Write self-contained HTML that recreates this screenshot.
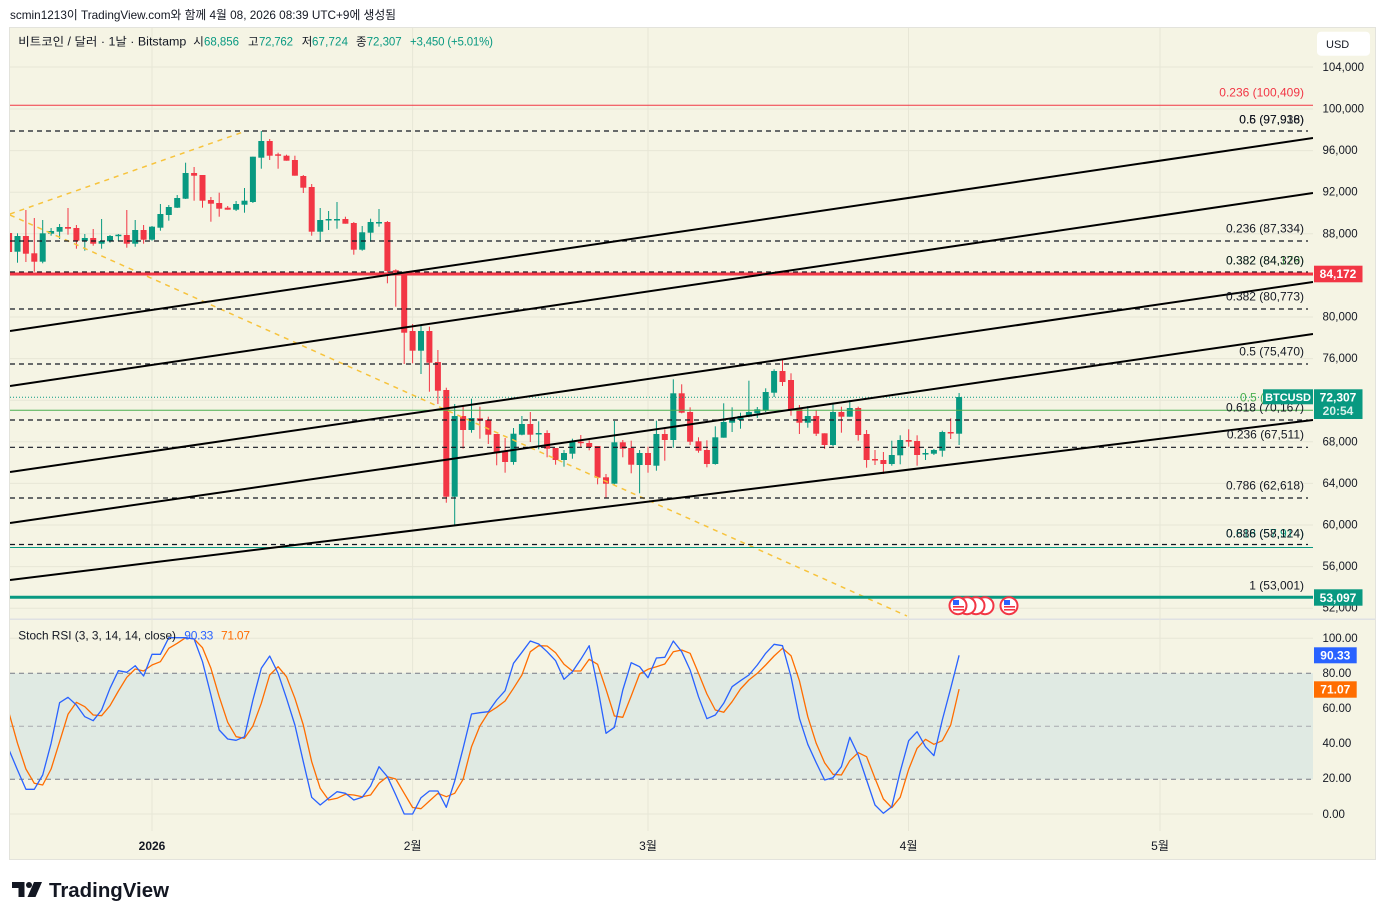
<!DOCTYPE html>
<html><head><meta charset="utf-8"><style>
html,body{margin:0;padding:0;background:#fff;}
svg{display:block;font-family:"Liberation Sans","Noto Sans CJK KR",sans-serif;}
</style></head><body>
<svg width="1385" height="920" viewBox="0 0 1385 920" xmlns="http://www.w3.org/2000/svg">
<defs>
<clipPath id="cm"><rect x="10" y="28" width="1303" height="590"/></clipPath>
<clipPath id="cr"><rect x="10" y="620" width="1303" height="211"/></clipPath>
</defs>
<rect width="1385" height="920" fill="#fff"/>
<text x="10" y="19" font-size="12" fill="#131722" textLength="386" lengthAdjust="spacingAndGlyphs">scmin1213이 TradingView.com와 함께 4월 08, 2026 08:39 UTC+9에 생성됨</text>
<rect x="9.5" y="27.5" width="1366" height="832" fill="#f5f4e4" stroke="#e3e3dc"/>
<line x1="10" y1="619.3" x2="1375" y2="619.3" stroke="#dfe1e3" stroke-width="1.5"/>

<!-- grid -->
<g stroke="#e7e6d6" stroke-width="1">
<line x1="10" y1="67" x2="1313" y2="67"/><line x1="10" y1="109" x2="1313" y2="109"/>
<line x1="10" y1="150.6" x2="1313" y2="150.6"/><line x1="10" y1="192.2" x2="1313" y2="192.2"/>
<line x1="10" y1="233.8" x2="1313" y2="233.8"/><line x1="10" y1="275.4" x2="1313" y2="275.4"/>
<line x1="10" y1="317" x2="1313" y2="317"/><line x1="10" y1="358.6" x2="1313" y2="358.6"/>
<line x1="10" y1="400.2" x2="1313" y2="400.2"/><line x1="10" y1="441.8" x2="1313" y2="441.8"/>
<line x1="10" y1="483.4" x2="1313" y2="483.4"/><line x1="10" y1="525" x2="1313" y2="525"/>
<line x1="10" y1="566.6" x2="1313" y2="566.6"/><line x1="10" y1="608.2" x2="1313" y2="608.2"/>
<line x1="10" y1="638.3" x2="1313" y2="638.3"/><line x1="10" y1="708.3" x2="1313" y2="708.3"/>
<line x1="10" y1="743.3" x2="1313" y2="743.3"/><line x1="10" y1="814" x2="1313" y2="814"/>
<line x1="152" y1="28" x2="152" y2="831"/><line x1="412.6" y1="28" x2="412.6" y2="831"/>
<line x1="648" y1="28" x2="648" y2="831"/><line x1="908.5" y1="28" x2="908.5" y2="831"/>
<line x1="1160" y1="28" x2="1160" y2="831"/>
</g>

<!-- main pane -->
<g clip-path="url(#cm)">
<!-- green candles -->
<g fill="#089981">
<rect x="17" y="233.3" width="1" height="29.4"/><rect x="14.5" y="236" width="6" height="15.7"/>
<rect x="42.2" y="220" width="1" height="43.3"/><rect x="39.7" y="233.3" width="6" height="28.4"/>
<rect x="50.6" y="228" width="1" height="7.7"/><rect x="48.1" y="231" width="6" height="2.7"/>
<rect x="59.1" y="224" width="1" height="15"/><rect x="56.6" y="227" width="6" height="4.7"/>
<rect x="84.3" y="234" width="1" height="16.7"/><rect x="81.8" y="238" width="6" height="3"/>
<rect x="101.1" y="219" width="1" height="29.7"/><rect x="98.6" y="241" width="6" height="2.7"/>
<rect x="109.5" y="235" width="1" height="7.7"/><rect x="107" y="236" width="6" height="5.3"/>
<rect x="117.9" y="234" width="1" height="7"/><rect x="115.4" y="234.7" width="6" height="1.5"/>
<rect x="134.7" y="220" width="1" height="26.7"/><rect x="132.2" y="230" width="6" height="13.7"/>
<rect x="151.5" y="226" width="1" height="14.7"/><rect x="149" y="226.7" width="6" height="13"/>
<rect x="159.9" y="204" width="1" height="26.7"/><rect x="157.4" y="214" width="6" height="13.7"/>
<rect x="168.3" y="205" width="1" height="15.7"/><rect x="165.8" y="207" width="6" height="8"/>
<rect x="176.7" y="195" width="1" height="13"/><rect x="174.2" y="198" width="6" height="9.7"/>
<rect x="185.1" y="162.7" width="1" height="36.3"/><rect x="182.6" y="173" width="6" height="25.7"/>
<rect x="235.6" y="201" width="1" height="10"/><rect x="233.1" y="204" width="6" height="5.7"/>
<rect x="244" y="188" width="1" height="24.7"/><rect x="241.5" y="200.7" width="6" height="4"/>
<rect x="252.4" y="156.7" width="1" height="46.3"/><rect x="249.9" y="156.7" width="6" height="45.3"/>
<rect x="260.8" y="131" width="1" height="37.7"/><rect x="258.3" y="141" width="6" height="16.7"/>
<rect x="319.7" y="208" width="1" height="33.7"/><rect x="317.2" y="220" width="6" height="11.7"/>
<rect x="328.1" y="211" width="1" height="19"/><rect x="325.6" y="219" width="6" height="1.5"/>
<rect x="336.5" y="202" width="1" height="26.7"/><rect x="334" y="219" width="6" height="1.5"/>
<rect x="361.7" y="226" width="1" height="24.7"/><rect x="359.2" y="232.3" width="6" height="17.4"/>
<rect x="370.1" y="218.7" width="1" height="23"/><rect x="367.6" y="222" width="6" height="10.7"/>
<rect x="378.5" y="209" width="1" height="17.7"/><rect x="376" y="222" width="6" height="1.5"/>
<rect x="420.5" y="325" width="1" height="49"/><rect x="418" y="331" width="6" height="19.7"/>
<rect x="454.2" y="404" width="1" height="121.3"/><rect x="451.7" y="416" width="6" height="80.7"/>
<rect x="471" y="398.7" width="1" height="34"/><rect x="468.5" y="418" width="6" height="12"/>
<rect x="513" y="428" width="1" height="36.7"/><rect x="510.5" y="433.7" width="6" height="28.3"/>
<rect x="521.4" y="416" width="1" height="19.3"/><rect x="518.9" y="424" width="6" height="10.7"/>
<rect x="538.2" y="421.3" width="1" height="28"/><rect x="535.7" y="433" width="6" height="1.5"/>
<rect x="563.5" y="450" width="1" height="16.7"/><rect x="561" y="453" width="6" height="7"/>
<rect x="571.9" y="438.7" width="1" height="20"/><rect x="569.4" y="441.7" width="6" height="12"/>
<rect x="613.9" y="421" width="1" height="63.3"/><rect x="611.4" y="442.3" width="6" height="41.4"/>
<rect x="639.1" y="450" width="1" height="43.3"/><rect x="636.6" y="453" width="6" height="12"/>
<rect x="655.9" y="420.7" width="1" height="50"/><rect x="653.4" y="434" width="6" height="31.7"/>
<rect x="672.8" y="379.3" width="1" height="68.4"/><rect x="670.3" y="393.3" width="6" height="46.7"/>
<rect x="714.8" y="426.3" width="1" height="38.4"/><rect x="712.3" y="437.3" width="6" height="26.7"/>
<rect x="723.2" y="403.3" width="1" height="34.4"/><rect x="720.7" y="422" width="6" height="15.7"/>
<rect x="731.6" y="407.3" width="1" height="24.7"/><rect x="729.1" y="418.7" width="6" height="4"/>
<rect x="740" y="412.7" width="1" height="16"/><rect x="737.5" y="416" width="6" height="4"/>
<rect x="748.4" y="380.7" width="1" height="36.6"/><rect x="745.9" y="412" width="6" height="4.7"/>
<rect x="756.8" y="407" width="1" height="11"/><rect x="754.3" y="409.3" width="6" height="4"/>
<rect x="765.2" y="388.3" width="1" height="23.7"/><rect x="762.7" y="392" width="6" height="18.7"/>
<rect x="773.6" y="369.3" width="1" height="27.7"/><rect x="771.1" y="371" width="6" height="21.7"/>
<rect x="807.3" y="406" width="1" height="21.7"/><rect x="804.8" y="416" width="6" height="6.7"/>
<rect x="832.5" y="402.7" width="1" height="43.6"/><rect x="830" y="412" width="6" height="33"/>
<rect x="849.3" y="400" width="1" height="16.7"/><rect x="846.8" y="408" width="6" height="8.7"/>
<rect x="891.3" y="440.7" width="1" height="25"/><rect x="888.8" y="455" width="6" height="9"/>
<rect x="899.7" y="435.3" width="1" height="29"/><rect x="897.2" y="440" width="6" height="15.3"/>
<rect x="925" y="449" width="1" height="11"/><rect x="922.5" y="453" width="6" height="1.5"/>
<rect x="933.4" y="449" width="1" height="6"/><rect x="930.9" y="450" width="6" height="3.7"/>
<rect x="941.8" y="430.7" width="1" height="26"/><rect x="939.3" y="432" width="6" height="18.7"/>
<rect x="958.6" y="393" width="1" height="52"/><rect x="956.1" y="397" width="6" height="36.7"/>
</g>
<!-- red candles -->
<g fill="#f23645">
<rect x="8.6" y="230" width="1" height="26"/><rect x="6.1" y="233" width="6" height="19"/>
<rect x="25.4" y="210" width="1" height="52"/><rect x="22.9" y="236" width="6" height="17.7"/>
<rect x="33.8" y="218" width="1" height="53.7"/><rect x="31.3" y="253.3" width="6" height="8.4"/>
<rect x="67.5" y="208" width="1" height="26.7"/><rect x="65" y="227" width="6" height="1.7"/>
<rect x="75.9" y="225" width="1" height="23.7"/><rect x="73.4" y="228" width="6" height="12.7"/>
<rect x="92.7" y="229" width="1" height="16.7"/><rect x="90.2" y="238" width="6" height="5.7"/>
<rect x="126.3" y="210" width="1" height="37.7"/><rect x="123.8" y="235" width="6" height="8.7"/>
<rect x="143.1" y="225" width="1" height="18.7"/><rect x="140.6" y="230" width="6" height="9.7"/>
<rect x="193.6" y="167" width="1" height="33.7"/><rect x="191.1" y="173" width="6" height="2.7"/>
<rect x="202" y="175" width="1" height="32.7"/><rect x="199.5" y="175" width="6" height="25.7"/>
<rect x="210.4" y="197" width="1" height="24.7"/><rect x="207.9" y="200" width="6" height="3.7"/>
<rect x="218.7" y="192.7" width="1" height="24"/><rect x="216.2" y="203" width="6" height="5.7"/>
<rect x="227.2" y="206" width="1" height="3.7"/><rect x="224.7" y="207.7" width="6" height="2"/>
<rect x="269.2" y="139" width="1" height="21"/><rect x="266.7" y="141" width="6" height="14.7"/>
<rect x="277.6" y="152.7" width="1" height="16"/><rect x="275.1" y="154.3" width="6" height="1.5"/>
<rect x="286" y="154.7" width="1" height="6"/><rect x="283.5" y="155.7" width="6" height="5"/>
<rect x="294.4" y="155.7" width="1" height="20"/><rect x="291.9" y="160" width="6" height="15.7"/>
<rect x="302.8" y="175" width="1" height="18"/><rect x="300.3" y="176" width="6" height="11.7"/>
<rect x="311.2" y="184" width="1" height="51.7"/><rect x="308.7" y="187" width="6" height="44.7"/>
<rect x="344.9" y="216.7" width="1" height="7"/><rect x="342.4" y="219" width="6" height="4.7"/>
<rect x="353.3" y="222" width="1" height="32.7"/><rect x="350.8" y="223" width="6" height="26.7"/>
<rect x="386.9" y="221" width="1" height="62.3"/><rect x="384.4" y="222" width="6" height="49"/>
<rect x="395.3" y="269.3" width="1" height="37.4"/><rect x="392.8" y="270.3" width="6" height="2"/>
<rect x="403.7" y="273" width="1" height="91"/><rect x="401.2" y="273" width="6" height="59.7"/>
<rect x="412.1" y="324" width="1" height="39.3"/><rect x="409.6" y="331" width="6" height="19.7"/>
<rect x="428.9" y="326.7" width="1" height="65"/><rect x="426.4" y="331" width="6" height="31.7"/>
<rect x="437.4" y="350" width="1" height="54"/><rect x="434.9" y="362" width="6" height="28.7"/>
<rect x="445.8" y="387.7" width="1" height="115"/><rect x="443.3" y="390" width="6" height="106.7"/>
<rect x="462.6" y="405.3" width="1" height="43.4"/><rect x="460.1" y="416" width="6" height="14"/>
<rect x="479.4" y="406.7" width="1" height="32"/><rect x="476.9" y="418.3" width="6" height="2.4"/>
<rect x="487.8" y="416.7" width="1" height="27.3"/><rect x="485.3" y="420" width="6" height="14.7"/>
<rect x="496.2" y="434" width="1" height="31.3"/><rect x="493.7" y="434" width="6" height="19.3"/>
<rect x="504.6" y="438" width="1" height="34.7"/><rect x="502.1" y="451.7" width="6" height="10.3"/>
<rect x="529.8" y="412" width="1" height="30"/><rect x="527.3" y="424" width="6" height="10.7"/>
<rect x="546.6" y="430.3" width="1" height="27"/><rect x="544.1" y="433" width="6" height="15.7"/>
<rect x="555.1" y="448" width="1" height="16.7"/><rect x="552.6" y="448" width="6" height="12"/>
<rect x="580.3" y="435" width="1" height="11.7"/><rect x="577.8" y="441.7" width="6" height="1.5"/>
<rect x="588.7" y="440.3" width="1" height="10"/><rect x="586.2" y="443" width="6" height="4"/>
<rect x="597.1" y="446" width="1" height="38.3"/><rect x="594.6" y="446" width="6" height="31.7"/>
<rect x="605.5" y="474" width="1" height="24.3"/><rect x="603" y="477.3" width="6" height="6.4"/>
<rect x="622.3" y="440" width="1" height="17.3"/><rect x="619.8" y="442.3" width="6" height="6.4"/>
<rect x="630.7" y="440.7" width="1" height="32.6"/><rect x="628.2" y="448" width="6" height="16.7"/>
<rect x="647.5" y="446.7" width="1" height="26"/><rect x="645" y="453" width="6" height="12"/>
<rect x="664.3" y="429.3" width="1" height="31.4"/><rect x="661.8" y="434" width="6" height="6"/>
<rect x="681.2" y="384.3" width="1" height="29"/><rect x="678.7" y="393.3" width="6" height="19.4"/>
<rect x="689.6" y="407.3" width="1" height="37.7"/><rect x="687.1" y="412" width="6" height="29.7"/>
<rect x="698" y="437.3" width="1" height="15.4"/><rect x="695.5" y="441.3" width="6" height="9.4"/>
<rect x="706.4" y="440.3" width="1" height="27"/><rect x="703.9" y="450" width="6" height="14"/>
<rect x="782" y="359.3" width="1" height="26.7"/><rect x="779.5" y="371" width="6" height="11"/>
<rect x="790.5" y="373.3" width="1" height="42.4"/><rect x="788" y="380" width="6" height="29.3"/>
<rect x="798.9" y="405" width="1" height="29"/><rect x="796.4" y="408" width="6" height="14.7"/>
<rect x="815.7" y="410" width="1" height="26"/><rect x="813.2" y="416" width="6" height="17.7"/>
<rect x="824.1" y="433.3" width="1" height="15.7"/><rect x="821.6" y="433.3" width="6" height="11.7"/>
<rect x="840.9" y="406.7" width="1" height="26"/><rect x="838.4" y="412" width="6" height="4.7"/>
<rect x="857.7" y="406.7" width="1" height="34"/><rect x="855.2" y="408" width="6" height="27"/>
<rect x="866.1" y="430" width="1" height="37.7"/><rect x="863.6" y="434" width="6" height="26"/>
<rect x="874.5" y="450" width="1" height="15"/><rect x="872" y="459" width="6" height="1.5"/>
<rect x="882.9" y="452" width="1" height="22"/><rect x="880.4" y="460" width="6" height="4"/>
<rect x="908.2" y="429.3" width="1" height="17.4"/><rect x="905.7" y="440" width="6" height="1.7"/>
<rect x="916.6" y="435.3" width="1" height="30.4"/><rect x="914.1" y="441" width="6" height="14"/>
<rect x="950.2" y="418.3" width="1" height="20.7"/><rect x="947.7" y="432" width="6" height="1.5"/>
</g>

<!-- orange dashed trend lines -->
<g stroke="#f7c33c" stroke-width="1.5" stroke-dasharray="5 5" fill="none">
<line x1="10" y1="214" x2="246" y2="131"/>
<line x1="10" y1="215" x2="907" y2="616"/>
</g>

<!-- horizontal fib lines -->
<line x1="10" y1="105.3" x2="1313" y2="105.3" stroke="#f23645" stroke-width="1"/>
<g stroke="#131722" stroke-width="1.2" stroke-dasharray="5 4">
<line x1="10" y1="131" x2="1308" y2="131"/>
<line x1="10" y1="241" x2="1308" y2="241"/>
<line x1="10" y1="272" x2="1308" y2="272"/>
<line x1="10" y1="309" x2="1308" y2="309"/>
<line x1="10" y1="364" x2="1308" y2="364"/>
<line x1="10" y1="420" x2="1308" y2="420"/>
<line x1="10" y1="447.3" x2="1308" y2="447.3"/>
<line x1="10" y1="498" x2="1308" y2="498"/>
<line x1="10" y1="544.5" x2="1308" y2="544.5"/>
</g>
<line x1="10" y1="547.5" x2="1313" y2="547.5" stroke="#089981" stroke-width="1"/>
<line x1="10" y1="410.3" x2="1313" y2="410.3" stroke="#4caf50" stroke-width="1"/>
<line x1="10" y1="397.3" x2="1313" y2="397.3" stroke="#089981" stroke-width="1" stroke-dasharray="1 2"/>
<line x1="10" y1="274" x2="1313" y2="274" stroke="#f23645" stroke-width="3"/>
<line x1="10" y1="597.3" x2="1313" y2="597.3" stroke="#089981" stroke-width="3"/>

<!-- channel lines -->
<g stroke="#000" stroke-width="2" fill="none">
<line x1="10" y1="331" x2="1313" y2="138"/>
<line x1="10" y1="386" x2="1313" y2="193"/>
<line x1="10" y1="472" x2="1313" y2="282"/>
<line x1="10" y1="523" x2="1313" y2="334"/>
<line x1="10" y1="580" x2="1313" y2="420"/>
</g>

<!-- fib labels -->
<g font-size="12" text-anchor="end" fill="#131722">
<text x="1304" y="96.5" fill="#f23645">0.236 (100,409)</text>
<text x="1304" y="123.5">0.5 (97,936)</text>
<text x="1304" y="123.5">0.6 (97,918)</text>
<text x="1304" y="232.5">0.236 (87,334)</text>
<text x="1304" y="264.5" fill="#4caf50">0.382 (84,179)</text>
<text x="1304" y="264.5">0.382 (84,326)</text>
<text x="1304" y="300.5">0.382 (80,773)</text>
<text x="1304" y="355.5">0.5 (75,470)</text>
<text x="1304" y="411.5">0.618 (70,167)</text>
<text x="1304" y="438.5">0.236 (67,511)</text>
<text x="1304" y="489.5">0.786 (62,618)</text>
<text x="1304" y="537.5" fill="#089981">0.618 (57,914)</text>
<text x="1304" y="537.5">0.886 (58,124)</text>
<text x="1304" y="589.5">1 (53,001)</text>
</g>
<text x="1240" y="401.5" font-size="12" fill="#4caf50">0.5 (</text>

<!-- event flags -->
<g stroke="#f23645" stroke-width="2" fill="#fff">
<circle cx="985" cy="605.7" r="8.5"/><circle cx="976" cy="605.7" r="8.5"/>
<circle cx="967" cy="605.7" r="8.5"/><circle cx="958" cy="605.7" r="8.5"/>
<circle cx="1009" cy="605.7" r="8.5"/>
</g>
<g>
<rect x="953" y="600" width="6" height="5" fill="#2962ff"/>
<rect x="953" y="606" width="11" height="1.6" fill="#f23645"/><rect x="953" y="609" width="11" height="1.6" fill="#f23645"/>
<rect x="1004" y="600" width="6" height="5" fill="#2962ff"/>
<rect x="1004" y="606" width="11" height="1.6" fill="#f23645"/><rect x="1004" y="609" width="11" height="1.6" fill="#f23645"/>
</g>
</g>

<!-- BTCUSD label -->
<rect x="1263" y="389.3" width="50" height="15" fill="#089981"/>
<text x="1288" y="401" font-size="11" fill="#fff" text-anchor="middle" font-weight="bold">BTCUSD</text>

<!-- legend -->
<g font-size="11.5">
<text x="18.3" y="45.5" fill="#131722" textLength="168" lengthAdjust="spacingAndGlyphs">비트코인 / 달러 · 1날 · Bitstamp</text>
<text x="193.3" y="45.5" fill="#131722">시</text><text x="204" y="45.5" fill="#089981" textLength="35">68,856</text>
<text x="248" y="45.5" fill="#131722">고</text><text x="259" y="45.5" fill="#089981" textLength="34">72,762</text>
<text x="301.7" y="45.5" fill="#131722">저</text><text x="312" y="45.5" fill="#089981" textLength="36">67,724</text>
<text x="356" y="45.5" fill="#131722">종</text><text x="366.7" y="45.5" fill="#089981" textLength="35">72,307</text>
<text x="410" y="45.5" fill="#089981" textLength="83">+3,450 (+5.01%)</text>
</g>

<!-- price axis -->
<rect x="1317" y="31.7" width="53" height="24" rx="4" fill="#fff"/>
<text x="1326" y="48" font-size="11" fill="#131722">USD</text>
<g font-size="11.5" fill="#131722">
<text x="1322.5" y="71">104,000</text>
<text x="1322.5" y="112.5">100,000</text>
<text x="1322.5" y="154">96,000</text>
<text x="1322.5" y="195.5">92,000</text>
<text x="1322.5" y="237.5">88,000</text>
<text x="1322.5" y="320.5">80,000</text>
<text x="1322.5" y="362">76,000</text>
<text x="1322.5" y="445.5">68,000</text>
<text x="1322.5" y="487">64,000</text>
<text x="1322.5" y="528.5">60,000</text>
<text x="1322.5" y="570">56,000</text>
<text x="1322.5" y="611.5">52,000</text>
</g>
<rect x="1314" y="265.7" width="48.5" height="16.6" fill="#f23645"/>
<text x="1338" y="278.2" font-size="12" font-weight="bold" fill="#fff" text-anchor="middle">84,172</text>
<rect x="1314" y="389.3" width="48.5" height="29.7" fill="#089981"/>
<text x="1338" y="401.5" font-size="12" font-weight="bold" fill="#fff" text-anchor="middle">72,307</text>
<text x="1338" y="415" font-size="12" font-weight="bold" fill="#d6f0ea" text-anchor="middle">20:54</text>
<rect x="1314" y="589.3" width="48.5" height="16.4" fill="#089981"/>
<text x="1338" y="601.8" font-size="12" font-weight="bold" fill="#fff" text-anchor="middle">53,097</text>

<!-- RSI pane -->
<rect x="10" y="673.3" width="1303" height="106" fill="#e0eae3"/>
<g stroke="#787b86" stroke-width="1" stroke-dasharray="5 4">
<line x1="10" y1="673.3" x2="1313" y2="673.3"/>
<line x1="10" y1="779.3" x2="1313" y2="779.3"/>
</g>
<line x1="10" y1="726.3" x2="1313" y2="726.3" stroke="#a7a9b0" stroke-width="1" stroke-dasharray="5 4"/>
<g clip-path="url(#cr)" fill="none" stroke-width="1.3" stroke-linejoin="round">
<polyline stroke="#ff6d00" points="9.1,713.3 17.5,743.3 25.9,769 34.3,783.3 42.7,785 51.1,769 59.6,741.7 68,714.3 76.4,702.3 84.8,706.7 93.2,715 101.6,715.7 110,705.7 118.4,691 126.8,677.3 135.2,669 143.6,671 152,665 160.4,661.7 168.8,648.3 177.2,643.3 185.6,637.7 194.1,639 202.5,647.7 210.9,668.3 219.2,696.7 227.7,722.3 236.1,736.7 244.5,738.3 252.9,726 261.3,703.3 269.7,675 278.1,666.7 286.5,676.7 294.9,698.3 303.3,725 311.7,761.7 320.2,788.3 328.6,800 337,798.3 345.4,794.3 353.8,795 362.2,796.7 370.6,795 379,783.3 387.4,776.7 395.8,779 404.2,793.3 412.6,807.5 421,808.7 429.4,801 437.9,793.3 446.3,796.7 454.7,793.3 463.1,779.3 471.5,746.7 479.9,726 488.3,712.7 496.7,707.3 505.1,701 513.5,688.3 521.9,675 530.3,651.7 538.7,645.7 547.1,646 555.6,652.7 564,664.3 572.4,671 580.8,671 589.2,659.3 597.6,664.3 606,689.3 614.4,716 622.8,717.3 631.2,696 639.6,674 648,669.3 656.4,666.7 664.8,664 673.3,651.7 681.7,650 690.1,653.3 698.5,673.3 706.9,694 715.3,710 723.7,712.3 732.1,701.7 740.5,689 748.9,680 757.3,673.3 765.7,665 774.1,656 782.5,648.3 791,655.7 799.4,680.7 807.8,716.7 816.2,743.3 824.6,762.7 833,774.3 841.4,775 849.8,760.7 858.2,752.7 866.6,756.7 875,778.3 883.4,799 891.8,807.7 900.2,797.3 908.7,769.3 917.1,748.3 925.5,739.3 933.9,744.3 942.3,740.7 950.7,725 959.1,689.1"/>
<polyline stroke="#2962ff" points="9.1,750 17.5,770 25.9,789.3 34.3,789.3 42.7,775 51.1,743.3 59.6,702.7 68,697.3 76.4,705 84.8,716.7 93.2,720.7 101.6,710 110,688.3 118.4,670.7 126.8,672.3 135.2,665.7 143.6,676 152,654.3 160.4,654.3 168.8,637.7 177.2,637.7 185.6,637.7 194.1,639 202.5,661.7 210.9,695 219.2,730 227.7,739 236.1,740.3 244.5,736.7 252.9,700 261.3,668.3 269.7,656 278.1,673.3 286.5,698.3 294.9,725 303.3,761.7 311.7,797.3 320.2,805 328.6,798.3 337,791.7 345.4,793.3 353.8,800 362.2,797.3 370.6,786 379,766.7 387.4,776.7 395.8,795 404.2,814 412.6,814 421,797.7 429.4,791 437.9,791 446.3,807.3 454.7,781 463.1,748.3 471.5,714 479.9,712.7 488.3,711.7 496.7,700 505.1,690.7 513.5,663.3 521.9,652.3 530.3,641 538.7,644 547.1,651.7 555.6,660.7 564,679.3 572.4,671.7 580.8,659.3 589.2,645.7 597.6,686.7 606,733.3 614.4,727.3 622.8,690 631.2,662.7 639.6,666.7 648,677.7 656.4,658 664.8,657.3 673.3,641 681.7,651.7 690.1,670 698.5,696.7 706.9,718.7 715.3,715 723.7,703.3 732.1,686.7 740.5,680.7 748.9,675 757.3,665 765.7,653.3 774.1,644.3 782.5,645.7 791,676.7 799.4,718.3 807.8,744.3 816.2,762.7 824.6,780 833,777.7 841.4,766.7 849.8,737.3 858.2,755 866.6,780 875,805 883.4,813.3 891.8,806.7 900.2,771.7 908.7,740.7 917.1,731.7 925.5,746.7 933.9,755.7 942.3,720 950.7,688.3 959.1,655.3"/>
</g>
<g font-size="12">
<text x="18.3" y="639.3" fill="#131722" textLength="157.7" lengthAdjust="spacingAndGlyphs">Stoch RSI (3, 3, 14, 14, close)</text>
<text x="184.3" y="639.3" fill="#2962ff" textLength="29">90.33</text>
<text x="221" y="639.3" fill="#ff6d00" textLength="29">71.07</text>
</g>
<g font-size="11.5" fill="#131722">
<text x="1322.5" y="642">100.00</text>
<text x="1322.5" y="677">80.00</text>
<text x="1322.5" y="712">60.00</text>
<text x="1322.5" y="747">40.00</text>
<text x="1322.5" y="782">20.00</text>
<text x="1322.5" y="818">0.00</text>
</g>
<rect x="1314" y="647.3" width="42.7" height="16" fill="#2962ff"/>
<text x="1335.3" y="659.5" font-size="12" font-weight="bold" fill="#fff" text-anchor="middle">90.33</text>
<rect x="1314" y="681.3" width="42.7" height="16.4" fill="#ff6d00"/>
<text x="1335.3" y="693.7" font-size="12" font-weight="bold" fill="#fff" text-anchor="middle">71.07</text>

<!-- time axis -->
<g font-size="12" fill="#131722" text-anchor="middle">
<text x="152" y="850" font-weight="bold">2026</text>
<text x="412.6" y="850">2월</text>
<text x="648" y="850">3월</text>
<text x="908.5" y="850">4월</text>
<text x="1160" y="850">5월</text>
</g>

<!-- logo -->
<g fill="#131722">
<polygon points="12,882 24.5,882 24.5,897 18.5,897 18.5,888 12,888"/>
<circle cx="29" cy="885" r="3"/>
<polygon points="34,882 42,882 35.5,897 27.5,897"/>
</g>
<text x="49" y="897" font-size="20" font-weight="bold" fill="#131722" textLength="120" lengthAdjust="spacingAndGlyphs">TradingView</text>
</svg>
</body></html>
